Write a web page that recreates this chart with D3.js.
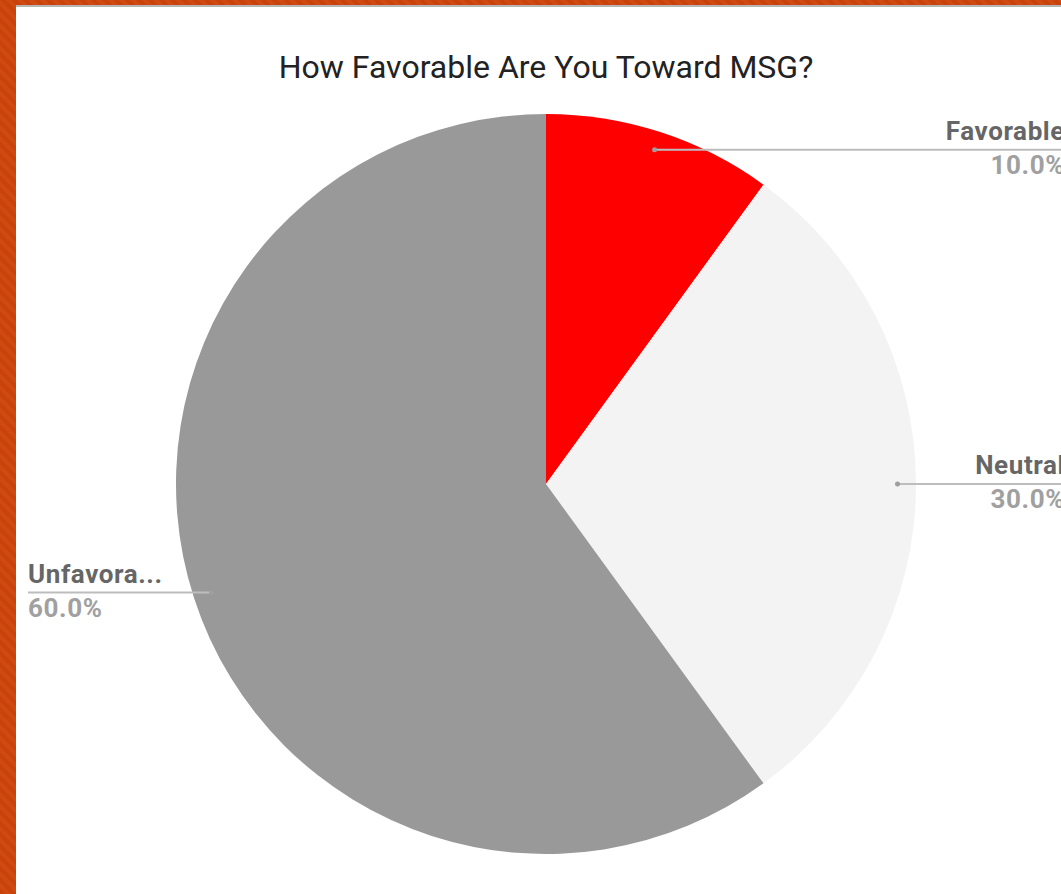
<!DOCTYPE html>
<html>
<head>
<meta charset="utf-8">
<script src="https://cdn.jsdelivr.net/npm/d3@7"></script>
<style>
  html, body { margin: 0; padding: 0; overflow: hidden; }
  svg { display: block; font-family: Roboto, "Noto Sans", sans-serif; }
</style>
</head>
<body>
<div id="chart"></div>
<script>
const labels = ["Favorable", "Neutral", "Unfavorable"];
const shortLabels = ["Favorable", "Neutral", "Unfavora..."];
const values = [10, 30, 60];
const colors = ["#ff0000", "#f3f3f3", "#999999"];

const width = 1061, height = 894;
const cx = 546, cy = 484, radius = 370;

const svg = d3.select("#chart").append("svg")
    .attr("width", width)
    .attr("height", height);

// striped orange backdrop
const defs = svg.append("defs");
const pat = defs.append("pattern")
    .attr("id", "stripes")
    .attr("width", 8).attr("height", 8)
    .attr("patternUnits", "userSpaceOnUse")
    .attr("patternTransform", "rotate(-45)");
pat.append("rect").attr("width", 8).attr("height", 8).attr("fill", "#cf4a10");
pat.append("rect").attr("width", 4).attr("height", 8).attr("fill", "#c9420c");

svg.append("rect").attr("width", width).attr("height", height).attr("fill", "url(#stripes)");
svg.append("rect").attr("x", 16).attr("y", 5).attr("width", width).attr("height", 3).attr("fill", "#b5b5b5");
svg.append("rect").attr("x", 16).attr("y", 7).attr("width", width).attr("height", height).attr("fill", "#ffffff");

svg.append("text")
    .attr("x", cx)
    .attr("y", 78)
    .attr("text-anchor", "middle")
    .attr("font-size", 32)
    .attr("fill", "#222")
    .text("How Favorable Are You Toward MSG?");

const pie = d3.pie().sort(null).value(d => d);
const arcs = pie(values);
const arc = d3.arc().innerRadius(0).outerRadius(radius);

const g = svg.append("g").attr("transform", `translate(${cx},${cy})`);

g.selectAll(".slice")
    .data(arcs)
    .join("path")
    .attr("class", "slice")
    .attr("d", arc)
    .attr("fill", (d, i) => colors[i]);

// leader lines and labels
const dotArc = d3.arc().innerRadius(radius * 0.95).outerRadius(radius * 0.95);
const total = d3.sum(values);

arcs.forEach((d, i) => {
    const [px, py] = dotArc.centroid(d);
    const x = cx + px, y = cy + py;
    const right = (d.startAngle + d.endAngle) / 2 < Math.PI;
    const endX = right ? width + 4 : 28;

    svg.append("line")
        .attr("x1", x).attr("y1", y)
        .attr("x2", right ? width : endX).attr("y2", y)
        .attr("stroke", "#bdbdbd")
        .attr("stroke-width", 2);
    svg.append("circle")
        .attr("cx", x).attr("cy", y).attr("r", 2.5)
        .attr("fill", "#9e9e9e");

    const anchor = right ? "end" : "start";
    svg.append("text")
        .attr("x", endX).attr("y", y - 10)
        .attr("text-anchor", anchor)
        .attr("font-size", 26)
        .attr("font-weight", "bold")
        .attr("letter-spacing", 0.6)
        .attr("fill", "#666")
        .text(shortLabels[i]);
    svg.append("text")
        .attr("x", endX).attr("y", y + 24)
        .attr("text-anchor", anchor)
        .attr("font-size", 26)
        .attr("font-weight", "bold")
        .attr("letter-spacing", 0.6)
        .attr("fill", "#a0a0a0")
        .text(d3.format(".1%")(values[i] / total));
});
</script>
</body>
</html>
